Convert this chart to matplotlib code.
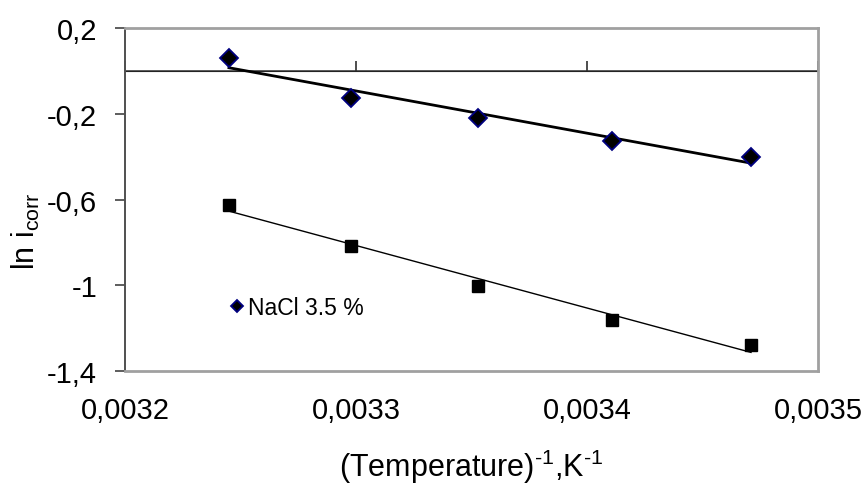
import matplotlib
matplotlib.use('Agg')
import matplotlib.pyplot as plt
import numpy as np
from matplotlib.ticker import FuncFormatter

plt.rcParams['font.family'] = ['Liberation Sans', 'DejaVu Sans']
plt.rcParams['mathtext.fontset'] = 'custom'
plt.rcParams['mathtext.rm'] = 'Liberation Sans'

# inverse temperature (1/K)
inv_T = [0.003245, 0.003298, 0.003353, 0.003411, 0.003471]
# ln i_corr
nacl = [0.059, -0.126, -0.221, -0.326, -0.400]
other = [-0.624, -0.815, -1.005, -1.162, -1.277]

y_ticks = [-1.4, -1.0, -0.6, -0.2, 0.2]
x_ticks = [0.0032, 0.0033, 0.0034, 0.0035]

fig = plt.figure(figsize=(8.68, 4.85), dpi=100)
ax = fig.add_axes([0.144, 0.233, 0.7984, 0.707])

# trend lines
x = np.array(inv_T)
for ys, lw in [(nacl, 2.0), (other, 1.0)]:
    k, b = np.polyfit(x, ys, 1)
    ax.plot(x[[0, -1]], k * x[[0, -1]] + b, color='black', lw=lw, zorder=2)

ax.plot(inv_T, nacl, ls='none', marker='D', ms=9.5, mfc='black', mec='#000080',
        mew=1.3, label='NaCl 3.5 %', zorder=3)
ax.plot(inv_T, other, ls='none', marker='s', ms=8.5, mfc='black', mec='black', zorder=3)

ax.set_xlim(0.0032, 0.0035)
ax.set_ylim(-1.4, 0.2)
ax.set_xticks(x_ticks)
ax.set_yticks(y_ticks)

comma = FuncFormatter(lambda v, p: ('%g' % round(v, 6)).replace('.', ','))
ax.xaxis.set_major_formatter(comma)
ax.yaxis.set_major_formatter(comma)

ax.axhline(0, color='#303030', lw=1.1, zorder=1)
for s in ['top', 'right', 'bottom']:
    ax.spines[s].set_color('#a0a0a0')
    ax.spines[s].set_linewidth(2)
ax.spines['left'].set_color('#505050')
ax.spines['left'].set_linewidth(1.4)

ax.tick_params(axis='x', length=0, pad=18, labelsize=21)
ax.tick_params(axis='y', length=7, width=1.3, color='#505050', pad=13, labelsize=21)

# tick marks sit on the zero line
sec = ax.secondary_xaxis(1.4 / 1.6)
sec.set_xticks(x_ticks)
sec.tick_params(axis='x', direction='out', length=7, width=1.2, color='#303030', labelbottom=False)
sec.spines['bottom'].set_visible(False)
sec.xaxis.set_ticklabels([])

ax.set_xlabel('(Temperature)$^{\\text{-1}}$,K$^{\\text{-1}}$', fontsize=22, labelpad=16)
ax.set_ylabel('ln i$_{\\text{corr}}$', fontsize=22, labelpad=4)
ax.yaxis.set_label_coords(-0.12, 0.41)

leg = ax.legend(loc='center left', bbox_to_anchor=(0.135, 0.184), frameon=False,
                fontsize=16.5, handlelength=0.6, handletextpad=0.2, markerscale=0.65,
                borderpad=0)

fig.savefig('out.png', dpi=100)
